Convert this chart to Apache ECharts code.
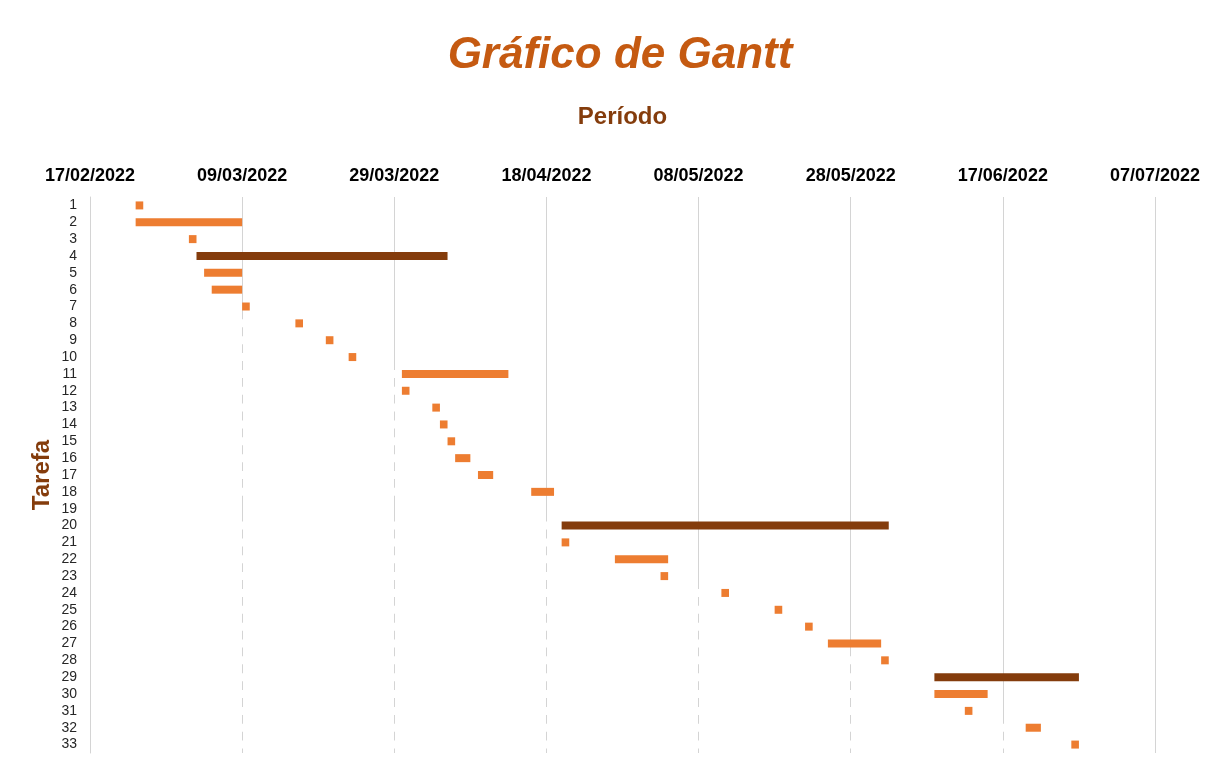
<!DOCTYPE html>
<html>
<head>
<meta charset="utf-8">
<script src="https://cdn.jsdelivr.net/npm/echarts@6/dist/echarts.min.js"></script>
<style>
html,body{margin:0;padding:0;background:#fff;}
#chart{width:1217px;height:765px;}
</style>
</head>
<body>
<div id="chart"></div>
<script>
const axisStart = '17/02/2022';
const tickLabels = ['17/02/2022','09/03/2022','29/03/2022','18/04/2022','08/05/2022','28/05/2022','17/06/2022','07/07/2022'];
const tasks = ['1','2','3','4','5','6','7','8','9','10','11','12','13','14','15','16','17','18','19','20','21','22','23','24','25','26','27','28','29','30','31','32','33'];
const startDates = ['23/02/2022','23/02/2022','02/03/2022','03/03/2022','04/03/2022','05/03/2022','09/03/2022','16/03/2022','20/03/2022','23/03/2022',
  '30/03/2022','30/03/2022','03/04/2022','04/04/2022','05/04/2022','06/04/2022','09/04/2022','16/04/2022',null,'20/04/2022',
  '20/04/2022','27/04/2022','03/05/2022','11/05/2022','18/05/2022','22/05/2022','25/05/2022','01/06/2022','08/06/2022','08/06/2022',
  '12/06/2022','20/06/2022','26/06/2022'];
const durations = [1,14,1,33,5,4,1,1,1,1,14,1,1,1,1,2,2,3,0,43,1,7,1,1,1,1,7,1,19,7,1,2,1];
const summaryTasks = ['4','20','29'];

function toDay(s){
  const p = s.split('/');
  const a = axisStart.split('/');
  return Math.round((Date.UTC(+p[2], +p[1]-1, +p[0]) - Date.UTC(+a[2], +a[1]-1, +a[0])) / 86400000);
}

const baseData = startDates.map(s => s ? toDay(s) : null);
const durData = durations.map((d, i) => ({
  value: d,
  itemStyle: { color: summaryTasks.includes(tasks[i]) ? '#843c0c' : '#ed7d31' }
}));

const chart = echarts.init(document.getElementById('chart'), null, {renderer:'canvas'});
chart.setOption({
  animation: false,
  backgroundColor: '#fff',
  title: {
    text: 'Gráfico de Gantt',
    left: 615, textAlign: 'center', top: 29,
    textStyle: { fontFamily: 'Liberation Sans', fontSize: 44, fontWeight: 'bold', fontStyle: 'italic', color: '#c55a11' }
  },
  grid: { left: 90, right: 62, top: 197, bottom: 12 },
  xAxis: {
    type: 'value', position: 'top', min: 0, max: 140, interval: 20,
    name: 'Período', nameLocation: 'middle', nameGap: 68,
    nameTextStyle: { fontFamily: 'Liberation Sans', fontSize: 24, fontWeight: 'bold', color: '#843c0c' },
    axisLine: { show: false }, axisTick: { show: false },
    axisLabel: {
      margin: 12, fontFamily: 'Liberation Sans', fontSize: 18, fontWeight: 'bold', color: '#000',
      formatter: v => tickLabels[Math.round(v / 20)] || ''
    },
    splitLine: { show: true, lineStyle: { color: '#d4d4d4', width: 1 } }
  },
  yAxis: {
    type: 'category', data: tasks, inverse: true, z: 5,
    name: 'Tarefa', nameLocation: 'middle', nameGap: 36, nameRotate: 90, nameMoveOverlap: false,
    nameTextStyle: { fontFamily: 'Liberation Sans', fontSize: 24, fontWeight: 'bold', color: '#843c0c' },
    axisLine: { show: true, lineStyle: { color: '#d4d4d4', width: 1 } },
    axisTick: { show: false },
    axisLabel: { interval: 0, margin: 13, fontFamily: 'Liberation Sans', fontSize: 14, color: '#262626' }
  },
  series: [
    { name: 'Início', type: 'bar', stack: 'g', barWidth: 8, silent: true,
      itemStyle: { color: '#ffffff' }, data: baseData },
    { name: 'Duração', type: 'bar', stack: 'g', barWidth: 8, data: durData }
  ]
});
</script>
</body>
</html>
